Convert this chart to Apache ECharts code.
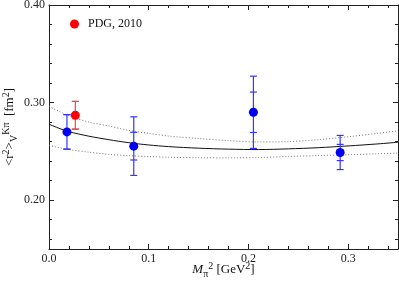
<!DOCTYPE html>
<html><head><meta charset="utf-8">
<script src="https://cdn.jsdelivr.net/npm/echarts@6/dist/echarts.min.js"></script>
<style>html,body{margin:0;padding:0;background:#fff}#c{width:399px;height:285px}</style>
</head><body><div id="c"></div>
<script>
// fit curves
const curveX     = [0, 0.005, 0.01, 0.02, 0.04, 0.06, 0.08, 0.10, 0.12, 0.15, 0.18, 0.21, 0.24, 0.27, 0.30, 0.33, 0.35];
const fitCentral = [0.2778, 0.2758, 0.2737, 0.2702, 0.2656, 0.2620, 0.2589, 0.2566, 0.2549, 0.2533, 0.2523, 0.2519, 0.2526, 0.2538, 0.2556, 0.2577, 0.2594];
const fitUpper   = [0.2962, 0.2935, 0.2911, 0.2865, 0.2800, 0.2760, 0.2715, 0.2685, 0.2657, 0.2632, 0.2610, 0.2597, 0.2600, 0.2620, 0.2650, 0.2686, 0.2710];
const fitLower   = [0.2563, 0.2550, 0.2538, 0.2518, 0.2492, 0.2470, 0.2456, 0.2447, 0.2440, 0.2435, 0.2434, 0.2437, 0.2448, 0.2457, 0.2466, 0.2476, 0.2482];
// lattice points
const latticeX       = [0.018, 0.085, 0.205, 0.292];
const latticeY       = [0.2700, 0.2554, 0.2901, 0.2489];
const latticeStatErr = [0.0177, 0.0142, 0.0207, 0.0083];
const latticeTotErr  = [0.0177, 0.0300, 0.0370, 0.0175];
// PDG point
const pdgX   = [0.0264];
const pdgY   = [0.2870];
const pdgErr = [0.0142];
// ticks
const yMajor = [0.20, 0.30, 0.40];
const yMinor = [0.16, 0.18, 0.22, 0.24, 0.26, 0.28, 0.32, 0.34, 0.36, 0.38];
const xMajor = [0.0, 0.1, 0.2, 0.3];
const xMinor = [0.02, 0.04, 0.06, 0.08, 0.12, 0.14, 0.16, 0.18, 0.22, 0.24, 0.26, 0.28, 0.32, 0.34];

const FONT = "'Liberation Serif', 'DejaVu Serif', serif";
const AX = '#222';
const chart = echarts.init(document.getElementById('c'), null, {renderer: 'canvas'});

function xAx(pos, ticks, len, line, labels, extra) {
  return Object.assign({
    type: 'value', min: 0, max: 0.35, position: pos, gridIndex: 0,
    axisLine: {show: line, onZero: false, lineStyle: {color: AX, width: 1}},
    axisTick: {show: true, inside: true, length: len, customValues: ticks, lineStyle: {color: AX}},
    axisLabel: labels ? {show: true, customValues: xMajor, formatter: v => v.toFixed(1), margin: 4,
      fontFamily: FONT, fontSize: 12, color: '#222'} : {show: false},
    splitLine: {show: false}
  }, extra || {});
}
function yAx(pos, ticks, len, line, labels, extra) {
  return Object.assign({
    type: 'value', min: 0.15, max: 0.40, position: pos, gridIndex: 0,
    axisLine: {show: line, onZero: false, lineStyle: {color: AX, width: 1}},
    axisTick: {show: true, inside: true, length: len, customValues: ticks, lineStyle: {color: AX}},
    axisLabel: labels ? {show: true, customValues: yMajor, formatter: v => v.toFixed(2), margin: 4,
      fontFamily: FONT, fontSize: 12, color: '#222'} : {show: false},
    splitLine: {show: false}
  }, extra || {});
}

const subSup = {
  a:   {fontFamily: FONT, fontSize: 13, lineHeight: 18, color: '#111'},
  i:   {fontFamily: FONT, fontSize: 13, lineHeight: 18, fontStyle: 'italic', color: '#111'},
  sup: {fontFamily: FONT, fontSize: 10, lineHeight: 10, verticalAlign: 'top', color: '#111'},
  sub: {fontFamily: FONT, fontSize: 10, lineHeight: 10, verticalAlign: 'bottom', color: '#111'}
};

function errRender(color) {
  return function (params, api) {
    const x = api.value(0), y = api.value(1), e1 = api.value(2), e2 = api.value(3);
    const children = [];
    const top = api.coord([x, y + e2]), bot = api.coord([x, y - e2]);
    children.push({type: 'line', shape: {x1: top[0], y1: top[1], x2: bot[0], y2: bot[1]},
      style: {stroke: color, lineWidth: 1.2}});
    const caps = [y + e2, y - e2, y + e1, y - e1];
    caps.forEach(v => {
      const p = api.coord([x, v]);
      children.push({type: 'line', shape: {x1: p[0] - 3.5, y1: p[1], x2: p[0] + 3.5, y2: p[1]},
        style: {stroke: color, lineWidth: 1.2}});
    });
    return {type: 'group', children};
  };
}

const option = {
  animation: false,
  backgroundColor: '#fff',
  grid: {left: 49, top: 5, width: 349, height: 244, containLabel: false, outerBoundsMode: 'none'},
  legend: {
    data: ['PDG, 2010'], left: 70, top: 18, padding: 0,
    itemWidth: 9, itemHeight: 9, icon: 'circle',
    textStyle: {fontFamily: FONT, fontSize: 12, color: '#111', padding: [0, 0, 0, 4]}
  },
  xAxis: [
    xAx('bottom', xMajor, 5, true, true, {
      name: '{i|M}{sub|π}{sup|2}{a| [GeV}{sup|2}{a|]}', nameLocation: 'middle', nameGap: 12,
      nameMoveOverlap: false, nameTextStyle: {rich: subSup}
    }),
    xAx('bottom', xMinor, 3, false, false),
    xAx('top', xMajor, 5, true, false),
    xAx('top', xMinor, 3, false, false)
  ],
  yAxis: [
    yAx('left', yMajor, 5, true, true, {
      name: '{a|<r}{sup|2}{a|>}{sub|V}{sup|Kπ}{a|  [fm}{sup|2}{a|]}', nameLocation: 'middle', nameGap: 30,
      nameRotate: 90, nameMoveOverlap: false, nameTextStyle: {rich: subSup}
    }),
    yAx('left', yMinor, 3, false, false),
    yAx('right', yMajor, 5, true, false),
    yAx('right', yMinor, 3, false, false)
  ],
  series: [
    {type: 'line', name: 'fit', data: curveX.map((x, i) => [x, fitCentral[i]]), showSymbol: false,
     smooth: 0.3, lineStyle: {color: '#111', width: 1}, silent: true, z: 2},
    {type: 'line', name: 'fit+', data: curveX.map((x, i) => [x, fitUpper[i]]), showSymbol: false,
     smooth: 0.3, lineStyle: {color: '#777', width: 1, type: [1, 2]}, silent: true, z: 2},
    {type: 'line', name: 'fit-', data: curveX.map((x, i) => [x, fitLower[i]]), showSymbol: false,
     smooth: 0.3, lineStyle: {color: '#777', width: 1, type: [1, 2]}, silent: true, z: 2},
    {type: 'custom', name: 'latticeErr', renderItem: errRender('#3535ff'), clip: false, z: 3,
     data: latticeX.map((x, i) => [x, latticeY[i], latticeStatErr[i], latticeTotErr[i]])},
    {type: 'custom', name: 'pdgErr', renderItem: errRender('#f04545'), clip: false, z: 3,
     data: pdgX.map((x, i) => [x, pdgY[i], pdgErr[i], pdgErr[i]])},
    {type: 'scatter', name: 'lattice', data: latticeX.map((x, i) => [x, latticeY[i]]),
     symbolSize: 9, itemStyle: {color: '#0000f0', opacity: 1}, z: 4},
    {type: 'scatter', name: 'PDG, 2010', data: pdgX.map((x, i) => [x, pdgY[i]]),
     symbolSize: 9, itemStyle: {color: '#ff0000', opacity: 1}, z: 4}
  ]
};
chart.setOption(option);
</script>
</body></html>
